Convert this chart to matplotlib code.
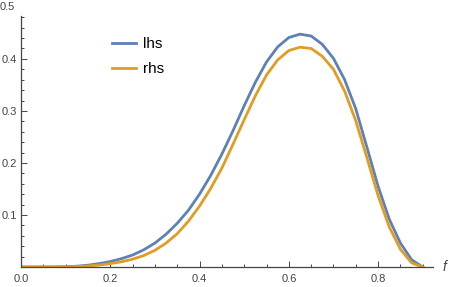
import matplotlib
matplotlib.use("Agg")
import matplotlib.pyplot as plt
from matplotlib.ticker import MultipleLocator
import numpy as np

plt.rcParams['font.family'] = ['Liberation Sans', 'DejaVu Sans']

# values, f in steps of 0.025
f = np.round(np.arange(0, 0.9001, 0.025), 3)
lhs = [0, 0, 0, 0.0001, 0.0005, 0.0015, 0.0035, 0.0065, 0.0105, 0.016,
       0.023, 0.033, 0.046, 0.063, 0.084, 0.109, 0.140, 0.176, 0.217, 0.262,
       0.310, 0.355, 0.394, 0.423, 0.441, 0.4475, 0.444, 0.428, 0.401, 0.360,
       0.304, 0.230, 0.155, 0.092, 0.046, 0.014, 0]
rhs = [0, 0, 0, 0, 0.0002, 0.0008, 0.002, 0.0038, 0.0065, 0.010,
       0.015, 0.022, 0.032, 0.046, 0.064, 0.088, 0.117, 0.151, 0.190, 0.236,
       0.283, 0.329, 0.369, 0.398, 0.416, 0.4225, 0.420, 0.405, 0.380, 0.338,
       0.281, 0.210, 0.137, 0.077, 0.034, 0.008, 0]

blue = '#5E81B5'
orange = '#E19C24'
axcol = '#444444'

fig = plt.figure(figsize=(4.49, 2.87), dpi=100)
ax = fig.add_axes([21/449, 20/287, 412/449, 251.3/287])

ax.plot(f, lhs, color=blue, lw=2.0, label='lhs', solid_joinstyle='round')
ax.plot(f, rhs, color=orange, lw=2.0, label='rhs', solid_joinstyle='round')

ax.set_xlim(0, 0.923)
ax.set_ylim(0, 0.483)

for s in ['top', 'right']:
    ax.spines[s].set_visible(False)
for s in ['left', 'bottom']:
    ax.spines[s].set_color(axcol)
    ax.spines[s].set_linewidth(0.9)

ax.set_xticks([0, 0.2, 0.4, 0.6, 0.8])
ax.set_xticklabels(['0.0', '0.2', '0.4', '0.6', '0.8'])
ax.xaxis.set_minor_locator(MultipleLocator(0.05))
ax.set_yticks([0.1, 0.2, 0.3, 0.4])
ax.set_yticklabels(['0.1', '0.2', '0.3', '0.4'])
ax.yaxis.set_minor_locator(MultipleLocator(0.02))
ax.tick_params(which='both', direction='in', color=axcol, labelcolor=axcol,
               labelsize=8, width=0.7)
ax.tick_params(which='major', length=4)
ax.tick_params(axis='y', which='major', pad=3)
ax.tick_params(axis='x', which='major', pad=5)
ax.tick_params(which='minor', length=2.2)

# the 0.5 label sits just above the end of the axis
ax.text(-6/412, 0.5, '0.5', transform=ax.get_yaxis_transform(),
        ha='right', va='center', fontsize=8, color=axcol, clip_on=False)
ax.text(1.028, 0, 'f', transform=ax.transAxes, ha='center', va='center',
        fontsize=10, style='italic', color=axcol, clip_on=False)

ax.legend(loc='upper left', bbox_to_anchor=(112/449, 1 - 37/287),
          bbox_transform=fig.transFigure, frameon=False, fontsize=11,
          borderpad=0, borderaxespad=0, handlelength=1.6, handletextpad=0.45,
          labelspacing=0.72)

fig.savefig('out.png', dpi=100)
